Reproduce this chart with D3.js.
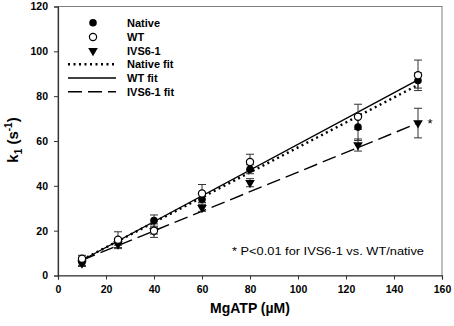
<!DOCTYPE html>
<html><head><meta charset="utf-8">
<script src="https://cdn.jsdelivr.net/npm/d3@7"></script>
<style>body{margin:0;background:#fff}svg{display:block}</style>
</head><body><svg id="c" width="454" height="326"></svg>
<script>
const xVals = [10, 25, 40, 60, 80, 125, 150];
const nativeVals = [6, 15, 24.5, 34, 47.4, 66.2, 87];
const nativeErr = [1.5, 1.5, 2.5, 2.5, 2, 6, 3.4];
const wtVals = [7.5, 16, 20, 36.6, 50.6, 70.8, 89.3];
const wtErr = [1.5, 3.5, 3, 4, 3.5, 5.6, 6.8];
const ivsVals = [5.5, 14, 20, 30.2, 41.4, 58.2, 68];
const ivsErr = [1.5, 2, 1.5, 1.6, 1.8, 2.7, 6.6];
const fitX = [10, 150];
const nativeFit = [7, 85];
const wtFit = [6.8, 87.3];
const ivsFit = [6.8, 68];
const xTicks = [0, 20, 40, 60, 80, 100, 120, 140, 160];
const yTicks = [0, 20, 40, 60, 80, 100, 120];
const legendLabels = ["Native", "WT", "IVS6-1", "Native fit", "WT fit", "IVS6-1 fit"];

const svg = d3.select("#c");
const x = d3.scaleLinear().domain([0, 160]).range([58, 442]);
const y = d3.scaleLinear().domain([0, 120]).range([275.5, 6.5]);
const font = "'Liberation Sans', Arial, sans-serif";

// frame
svg.append("rect").attr("x", 58).attr("y", 6.5).attr("width", 384).attr("height", 269)
  .attr("fill", "none").attr("stroke", "#7f7f7f").attr("stroke-width", 1);

const xa = svg.append("g").attr("transform", "translate(0,275.5)")
  .call(d3.axisBottom(x).tickValues(xTicks).tickSize(4).tickPadding(6).tickFormat(d3.format("d")));
const ya = svg.append("g").attr("transform", "translate(58,0)")
  .call(d3.axisLeft(y).tickValues(yTicks).tickSize(4).tickPadding(6).tickFormat(d3.format("d")));
[xa, ya].forEach(a => {
  a.select(".domain").attr("stroke", "#333").attr("stroke-width", 1.2);
  a.selectAll(".tick line").attr("stroke", "#333");
  a.selectAll("text").attr("font-family", font).attr("font-weight", "bold").attr("font-size", 10.5).attr("fill", "#000");
});

svg.append("text").attr("x", 250).attr("y", 313).attr("text-anchor", "middle")
  .attr("font-family", font).attr("font-weight", "bold").attr("font-size", 14).text("MgATP (µM)");
const yt = svg.append("text").attr("transform", "translate(18,140) rotate(-90)").attr("text-anchor", "middle")
  .attr("font-family", font).attr("font-weight", "bold").attr("font-size", 15);
yt.append("tspan").text("k");
yt.append("tspan").attr("font-size", 10).attr("dy", 4).text("1");
yt.append("tspan").attr("dy", -4).text(" (s");
yt.append("tspan").attr("font-size", 10).attr("dy", -6).text("-1");
yt.append("tspan").attr("dy", 6).text(")");

// fit lines
const line = d3.line().x(d => x(d[0])).y(d => y(d[1]));
const fits = [
  {v: ivsFit, dash: "14,6", w: 1.4},
  {v: nativeFit, dash: "2,3.5", w: 2.4},
  {v: wtFit, dash: null, w: 1.4}
];
fits.forEach(f => {
  svg.append("path").datum(fitX.map((d, i) => [d, f.v[i]])).attr("d", line)
    .attr("fill", "none").attr("stroke", "#000").attr("stroke-width", f.w)
    .attr("stroke-dasharray", f.dash);
});

// error bars
function errBars(vals, errs) {
  const g = svg.append("g").attr("stroke", "#333").attr("stroke-width", 1);
  xVals.forEach((xv, i) => {
    const cx = x(xv), lo = y(vals[i] - errs[i]), hi = y(vals[i] + errs[i]);
    g.append("line").attr("x1", cx).attr("x2", cx).attr("y1", lo).attr("y2", hi);
    g.append("line").attr("x1", cx - 4).attr("x2", cx + 4).attr("y1", lo).attr("y2", lo);
    g.append("line").attr("x1", cx - 4).attr("x2", cx + 4).attr("y1", hi).attr("y2", hi);
  });
}
errBars(wtVals, wtErr);
errBars(nativeVals, nativeErr);
errBars(ivsVals, ivsErr);

const tri = d3.symbol().type(d3.symbolTriangle).size(40);
function drawTri(g, cx, cy) {
  g.append("path").attr("d", tri).attr("transform", `translate(${cx},${cy}) rotate(180)`).attr("fill", "#000");
}
// markers
const gi = svg.append("g");
xVals.forEach((xv, i) => drawTri(gi, x(xv), y(ivsVals[i])));
svg.append("g").selectAll("circle").data(xVals).join("circle")
  .attr("cx", d => x(d)).attr("cy", (d, i) => y(nativeVals[i])).attr("r", 3.8).attr("fill", "#000");
svg.append("g").selectAll("circle").data(xVals).join("circle")
  .attr("cx", d => x(d)).attr("cy", (d, i) => y(wtVals[i])).attr("r", 3.6)
  .attr("fill", "#fff").attr("stroke", "#000").attr("stroke-width", 1.2);

// significance star
svg.append("text").attr("x", 430).attr("y", 128).attr("text-anchor", "middle")
  .attr("font-family", font).attr("font-size", 13).text("*");

// legend
const lg = svg.append("g");
const rowY = [22.7, 37, 50.7, 64.3, 78, 91.7];
lg.append("circle").attr("cx", 93).attr("cy", rowY[0]).attr("r", 3.8).attr("fill", "#000");
lg.append("circle").attr("cx", 93).attr("cy", rowY[1]).attr("r", 3.6).attr("fill", "#fff").attr("stroke", "#000").attr("stroke-width", 1.2);
drawTri(lg, 93, rowY[2]);
[["2,3.5", 2.4], [null, 1.4], ["14,6", 1.4]].forEach((s, i) => {
  lg.append("line").attr("x1", 68).attr("x2", 116).attr("y1", rowY[3 + i]).attr("y2", rowY[3 + i])
    .attr("stroke", "#000").attr("stroke-width", s[1]).attr("stroke-dasharray", s[0]);
});
legendLabels.forEach((t, i) => {
  lg.append("text").attr("x", 127).attr("y", rowY[i]).attr("dy", "0.35em")
    .attr("font-family", font).attr("font-weight", "bold").attr("font-size", 11).text(t);
});

svg.append("text").attr("x", 232).attr("y", 255).attr("font-family", font).attr("font-size", 11.5)
  .attr("textLength", 192).attr("lengthAdjust", "spacingAndGlyphs")
  .text("* P<0.01 for IVS6-1 vs. WT/native");
</script></body></html>
